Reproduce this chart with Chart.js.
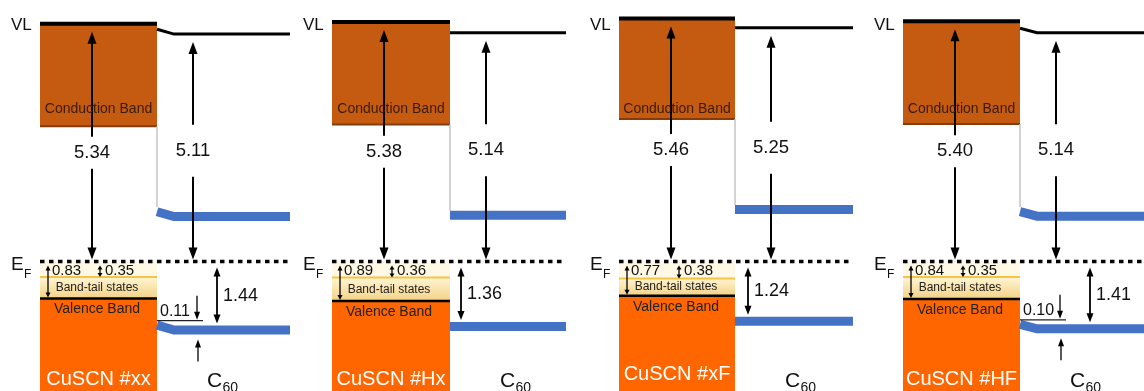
<!DOCTYPE html>
<html>
<head>
<meta charset="utf-8">
<script src="https://cdn.jsdelivr.net/npm/chart.js@4/dist/chart.umd.min.js"></script>
<style>
  html, body { margin: 0; padding: 0; background: #fff; }
  #wrap { width: 1144px; height: 391px; position: relative; }
</style>
</head>
<body>
<div id="wrap"><canvas id="c"></canvas></div>
<script>
// Energy levels in eV, referenced to the Fermi level (E_F = 0)
const samples  = ['CuSCN #xx', 'CuSCN #Hx', 'CuSCN #xF', 'CuSCN #HF'];
const cuscnVL  = [5.34, 5.38, 5.46, 5.40];   // CuSCN work function (VL above E_F)
const c60VL    = [5.11, 5.14, 5.25, 5.14];   // C60 work function
const cuscnCB  = [3.04, 3.08, 3.20, 3.09];   // conduction band edge
const cuscnVB  = [-0.83, -0.89, -0.77, -0.84]; // valence band edge
const bandTail = [-0.35, -0.36, -0.38, -0.35]; // band-tail states edge
const c60LUMO  = [1.11, 1.14, 1.27, 1.12];
const c60HOMO  = [-1.44, -1.36, -1.24, -1.41];
const c60Bend  = [0.11, 0.00, 0.00, 0.10];   // interface band bending in C60

// Horizontal layout of the four panels (x-axis units = px)
const layout = {
  boxLeft:    [40, 332, 619, 903],
  boxRight:   [157, 450, 735, 1020],
  c60Right:   [290, 566, 853, 1144],
  homoArrowDx:[60, 11, 13, 70],
  sampleBase: [385, 385, 380, 385],
  bendRun: 17
};

const FONT = '"Liberation Sans", Arial, Helvetica, sans-serif';

// Level lines drawn as Chart.js line datasets
const datasets = [];
samples.forEach((name, i) => {
  const l = layout.boxLeft[i], r = layout.boxRight[i], e = layout.c60Right[i];
  datasets.push({
    label: name + ' VL',
    data: [{ x: l, y: cuscnVL[i] }, { x: r, y: cuscnVL[i] }],
    borderColor: '#000', borderWidth: 4
  });
  datasets.push({
    label: 'C60 VL',
    data: [{ x: r, y: c60VL[i] + c60Bend[i] }, { x: r + layout.bendRun, y: c60VL[i] }, { x: e, y: c60VL[i] }],
    borderColor: '#000', borderWidth: 3
  });
  datasets.push({
    label: 'E_F',
    data: [{ x: l, y: 0 }, { x: e, y: 0 }],
    borderColor: '#000', borderWidth: 3.5, borderDash: [4.5, 4.5]
  });
});

function seg(ctx, x0, y0, x1, y1) {
  ctx.beginPath(); ctx.moveTo(x0, y0); ctx.lineTo(x1, y1); ctx.stroke();
}
// dir: -1 points up, +1 points down
function head(ctx, x, tip, dir, w, len) {
  ctx.beginPath();
  ctx.moveTo(x, tip);
  ctx.lineTo(x - w / 2, tip - dir * len);
  ctx.lineTo(x + w / 2, tip - dir * len);
  ctx.closePath(); ctx.fill();
}
function dblArrow(ctx, x, yTop, yBot, w, len, lw) {
  ctx.lineWidth = lw;
  seg(ctx, x, yTop + len * 0.7, x, yBot - len * 0.7);
  head(ctx, x, yTop, -1, w, len);
  head(ctx, x, yBot, 1, w, len);
}
function text(ctx, str, x, y, size, color, align, base) {
  ctx.font = size + 'px ' + FONT;
  ctx.fillStyle = color;
  ctx.textAlign = align || 'center';
  ctx.textBaseline = base || 'middle';
  ctx.fillText(str, x, y);
}
function polyBand(ctx, pts, X, Y, width, color) {
  ctx.strokeStyle = color; ctx.lineWidth = width; ctx.lineJoin = 'miter';
  ctx.beginPath();
  pts.forEach((p, k) => {
    const px = X(p[0]), py = Y(p[1]) + width / 2;
    if (k === 0) ctx.moveTo(px, py); else ctx.lineTo(px, py);
  });
  ctx.stroke();
}

const bandPlugin = {
  id: 'bandDiagram',
  beforeDatasetsDraw(chart) {
    const { ctx } = chart;
    const sx = chart.scales.x, sy = chart.scales.y;
    const X = v => sx.getPixelForValue(v), Y = v => sy.getPixelForValue(v);
    ctx.save();
    samples.forEach((name, i) => {
      const l = X(layout.boxLeft[i]), r = X(layout.boxRight[i]);
      const yVL = Y(cuscnVL[i]), yCB = Y(cuscnCB[i]);
      const yEF = Y(0), yT = Y(bandTail[i]), yV = Y(cuscnVB[i]);
      // conduction band
      ctx.fillStyle = '#C55A11';
      ctx.fillRect(l, yVL, r - l, yCB - yVL);
      ctx.strokeStyle = '#843C0C'; ctx.lineWidth = 2;
      seg(ctx, l, yCB, r, yCB);
      // band-tail states
      ctx.fillStyle = '#FFF8E4';
      ctx.fillRect(l, yEF, r - l, yT - yEF);
      const g = ctx.createLinearGradient(0, yT, 0, yV);
      g.addColorStop(0, '#FFF5D2'); g.addColorStop(1, '#F3D286');
      ctx.fillStyle = g;
      ctx.fillRect(l, yT, r - l, yV - yT);
      ctx.strokeStyle = '#F6C445'; ctx.lineWidth = 2;
      seg(ctx, l, yT, r, yT);
      // valence band
      ctx.fillStyle = '#FF6600';
      ctx.fillRect(l, yV, r - l, Y(sy.min) - yV);
      ctx.strokeStyle = '#000'; ctx.lineWidth = 2.5;
      seg(ctx, l, yV, r, yV);
      // interface divider
      ctx.strokeStyle = '#C4C4C4'; ctx.lineWidth = 1.5;
      seg(ctx, r, yCB, r, Y(c60LUMO[i] + c60Bend[i]));
      // C60 frontier orbitals
      const b = layout.boxRight[i], e = layout.c60Right[i], run = layout.bendRun;
      polyBand(ctx, [[b, c60LUMO[i] + c60Bend[i]], [b + run, c60LUMO[i]], [e, c60LUMO[i]]], X, Y, 9, '#4472C4');
      polyBand(ctx, [[b, c60HOMO[i] + c60Bend[i]], [b + run, c60HOMO[i]], [e, c60HOMO[i]]], X, Y, 9, '#4472C4');
    });
    ctx.restore();
  },
  afterDatasetsDraw(chart) {
    const { ctx } = chart;
    const sx = chart.scales.x, sy = chart.scales.y;
    const X = v => sx.getPixelForValue(v), Y = v => sy.getPixelForValue(v);
    ctx.save();
    ctx.fillStyle = '#000'; ctx.strokeStyle = '#000';
    samples.forEach((name, i) => {
      const l = X(layout.boxLeft[i]), r = X(layout.boxRight[i]);
      const yEF = Y(0), yT = Y(bandTail[i]), yV = Y(cuscnVB[i]);

      // axis-style labels
      text(ctx, 'VL', l - 29, 30, 17, '#111', 'left', 'alphabetic');
      text(ctx, 'E', l - 29, 270, 19, '#111', 'left', 'alphabetic');
      text(ctx, 'F', l - 16, 278, 12, '#111', 'left', 'alphabetic');

      // work-function arrows
      const wf = [
        { x: l + 52, vl: cuscnVL[i], dy: 10, gap: 16 },
        { x: r + 36, vl: c60VL[i], dy: 3, gap: 26 }
      ];
      wf.forEach(a => {
        const top = Y(a.vl) + 8, bot = yEF - 2;
        const yl = (Y(a.vl) + yEF) / 2 + a.dy;
        ctx.fillStyle = '#000'; ctx.strokeStyle = '#000'; ctx.lineWidth = 2;
        seg(ctx, a.x, top + 9, a.x, yl - a.gap);
        head(ctx, a.x, top, -1, 9, 12);
        seg(ctx, a.x, yl + a.gap, a.x, bot - 9);
        head(ctx, a.x, bot, 1, 9, 12);
        text(ctx, a.vl.toFixed(2), a.x, yl, 18.5, '#111');
      });

      // CuSCN band labels
      text(ctx, 'Conduction Band', (l + r) / 2, 109, 14, '#3A1C08');
      text(ctx, 'Band-tail states', l + 57, (yT + yV) / 2, 12, '#222');
      text(ctx, 'Valence Band', l + 57, yV + 11, 14, '#222');
      text(ctx, name, (l + r) / 2, layout.sampleBase[i], 20, '#fff', 'center', 'alphabetic');

      // band-tail / valence band offsets from E_F
      ctx.fillStyle = '#000'; ctx.strokeStyle = '#000';
      dblArrow(ctx, l + 8, yEF + 4, yV - 1, 5, 5, 1.3);
      dblArrow(ctx, l + 60, yEF + 4, yT, 5, 4, 1.3);
      text(ctx, (-cuscnVB[i]).toFixed(2), l + 12, yEF + 9, 15, '#111', 'left');
      text(ctx, (-bandTail[i]).toFixed(2), l + 65, yEF + 9, 15, '#111', 'left');

      // C60 HOMO offset from E_F
      const hx = r + layout.homoArrowDx[i], yH = Y(c60HOMO[i]);
      ctx.fillStyle = '#000';
      dblArrow(ctx, hx, yEF + 6, yH - 2, 7, 9, 1.8);
      text(ctx, (-c60HOMO[i]).toFixed(2), hx + 6, (yEF + yH) / 2 + 2, 18, '#111', 'left');

      // interface band bending
      if (c60Bend[i] > 0) {
        const yB = Y(c60HOMO[i] + c60Bend[i]);
        ctx.strokeStyle = '#222'; ctx.fillStyle = '#000'; ctx.lineWidth = 1.3;
        seg(ctx, r, yB, r + 46, yB);
        ctx.lineWidth = 1.5;
        seg(ctx, r + 40, yB - 25, r + 40, yB - 7);
        head(ctx, r + 40, yB - 1, 1, 6, 8);
        seg(ctx, r + 41, yH + 20, r + 41, yH + 36);
        head(ctx, r + 41, yH + 14, -1, 6, 8);
        text(ctx, c60Bend[i].toFixed(2), r + 3, yB - 9, 16, '#111', 'left');
      }

      // C60 label
      text(ctx, 'C', r + 50, 387, 21, '#111', 'left', 'alphabetic');
      text(ctx, '60', r + 65.5, 392, 14, '#111', 'left', 'alphabetic');
    });
    ctx.restore();
  }
};

new Chart(document.getElementById('c'), {
  type: 'line',
  data: { datasets },
  plugins: [bandPlugin],
  options: {
    responsive: true,
    maintainAspectRatio: false,
    animation: false,
    layout: { padding: 0 },
    elements: { point: { radius: 0 }, line: { tension: 0 } },
    plugins: { legend: { display: false }, tooltip: { enabled: false } },
    scales: {
      x: { type: 'linear', min: 0, max: 1144, display: false },
      y: { type: 'linear', min: -2.91, max: 5.876, display: false }
    }
  }
});
</script>
</body>
</html>
